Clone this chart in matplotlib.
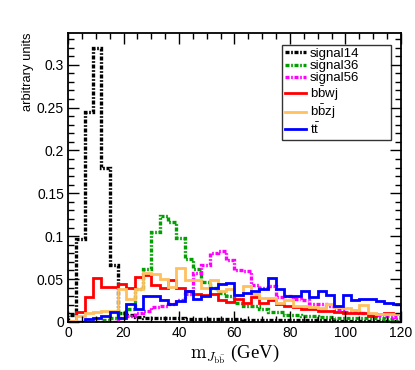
import numpy as np
import matplotlib
matplotlib.use("Agg")
import matplotlib.pyplot as plt
from matplotlib.ticker import MultipleLocator

plt.rcParams['font.family'] = ['Liberation Sans', 'DejaVu Sans']
plt.rcParams['mathtext.fontset'] = 'cm'

# bin edges: 40 bins of 3 GeV
edges = np.arange(0, 121, 3)

signal14 = [0.008, 0.097, 0.245, 0.320, 0.180, 0.066, 0.010, 0.008, 0.006, 0.005,
            0.005, 0.004, 0.004, 0.004, 0.003, 0.003, 0.003, 0.003, 0.003, 0.003,
            0.003, 0.002, 0.002, 0.002, 0.002, 0.002, 0.002, 0.002, 0.002, 0.002,
            0.002, 0.002, 0.001, 0.001, 0.001, 0.001, 0.001, 0.001, 0.001, 0.001]
signal36 = [0.000, 0.000, 0.000, 0.000, 0.002, 0.005, 0.010, 0.015, 0.038, 0.062,
            0.105, 0.124, 0.117, 0.098, 0.073, 0.062, 0.046, 0.040, 0.034, 0.030,
            0.022, 0.019, 0.018, 0.015, 0.011, 0.011, 0.008, 0.008, 0.007, 0.007,
            0.006, 0.006, 0.005, 0.005, 0.005, 0.004, 0.004, 0.004, 0.003, 0.003]
signal56 = [0.000, 0.000, 0.000, 0.000, 0.000, 0.000, 0.004, 0.007, 0.010, 0.013,
            0.017, 0.019, 0.021, 0.026, 0.033, 0.057, 0.066, 0.080, 0.083, 0.072,
            0.060, 0.059, 0.043, 0.040, 0.042, 0.029, 0.030, 0.027, 0.026, 0.021,
            0.021, 0.018, 0.014, 0.012, 0.011, 0.010, 0.009, 0.008, 0.007, 0.006]
bbwj = [0.001, 0.011, 0.029, 0.051, 0.041, 0.041, 0.044, 0.040, 0.052, 0.055,
        0.043, 0.040, 0.049, 0.039, 0.036, 0.033, 0.031, 0.033, 0.025, 0.023,
        0.027, 0.022, 0.029, 0.022, 0.025, 0.021, 0.018, 0.017, 0.015, 0.015,
        0.013, 0.013, 0.012, 0.010, 0.010, 0.010, 0.007, 0.009, 0.010, 0.009]
bbzj = [0.001, 0.007, 0.010, 0.012, 0.013, 0.013, 0.038, 0.027, 0.038, 0.057,
        0.056, 0.050, 0.041, 0.063, 0.049, 0.049, 0.040, 0.049, 0.036, 0.038,
        0.031, 0.042, 0.032, 0.028, 0.028, 0.022, 0.025, 0.018, 0.019, 0.017,
        0.016, 0.021, 0.017, 0.016, 0.014, 0.020, 0.010, 0.009, 0.009, 0.009]
ttbar = [0.000, 0.000, 0.003, 0.005, 0.007, 0.011, 0.005, 0.021, 0.015, 0.030,
         0.030, 0.025, 0.021, 0.024, 0.036, 0.027, 0.030, 0.040, 0.044, 0.045,
         0.031, 0.034, 0.036, 0.038, 0.051, 0.038, 0.030, 0.030, 0.036, 0.029,
         0.036, 0.031, 0.018, 0.031, 0.025, 0.027, 0.027, 0.024, 0.022, 0.021]

labels = ['signal14', 'signal36', 'signal56', r'b$\mathregular{\bar{b}}$wj',
          r'b$\mathregular{\bar{b}}$zj', r't$\mathregular{\bar{t}}$']

fig = plt.figure(figsize=(4.15, 3.7), dpi=100)
ax = fig.add_axes([0.164, 0.130, 0.802, 0.781])

dashdot = (0, (1.2, 0.5, 0.5, 0.5))
ax.stairs(signal14, edges, color='black', lw=2.4, ls=dashdot, label=labels[0])
ax.stairs(signal36, edges, color='#00a000', lw=2.4, ls=dashdot, label=labels[1])
ax.stairs(signal56, edges, color='#ff00ff', lw=2.4, ls=dashdot, label=labels[2])
ax.stairs(bbwj, edges, color='#ff0000', lw=2.0, label=labels[3])
ax.stairs(bbzj, edges, color='#ffc060', lw=2.0, label=labels[4])
ax.stairs(ttbar, edges, color='#0000ff', lw=2.0, label=labels[5])

ax.set_xlim(0, 120)
ax.set_ylim(0, 0.337)
ax.xaxis.set_major_locator(MultipleLocator(20))
ax.xaxis.set_minor_locator(MultipleLocator(5))
ax.yaxis.set_major_locator(MultipleLocator(0.05))
ax.yaxis.set_minor_locator(MultipleLocator(0.01))
ax.set_yticks([0, 0.05, 0.1, 0.15, 0.2, 0.25, 0.3])
ax.set_yticklabels(['0', '0.05', '0.1', '0.15', '0.2', '0.25', '0.3'])
ax.tick_params(which='both', direction='in', top=True, right=True, labelsize=10, pad=3)
ax.tick_params(which='major', length=8, width=1)
ax.tick_params(which='minor', length=4, width=1)
for s in ax.spines.values():
    s.set_linewidth(1.3)

ax.set_xlabel(r'$\mathrm{m}_{J_{\mathrm{b}\bar{\mathrm{b}}}}$ (GeV)', fontsize=13.5,
              family=['Liberation Serif'], labelpad=2)
ax.text(-0.12, 1.0, 'arbitrary units', transform=ax.transAxes, rotation=90,
        ha='center', va='top', fontsize=9.3)

leg = ax.legend(loc='upper left', bbox_to_anchor=(0.643, 0.64, 0.327, 0.318),
                mode='expand', fontsize=9.5, frameon=True, fancybox=False,
                edgecolor='black', handlelength=1.6, handletextpad=0.3,
                labelspacing=0.0, borderpad=0.2, borderaxespad=0.0)
leg.get_frame().set_linewidth(1.0)

fig.savefig('out.png', dpi=100)
